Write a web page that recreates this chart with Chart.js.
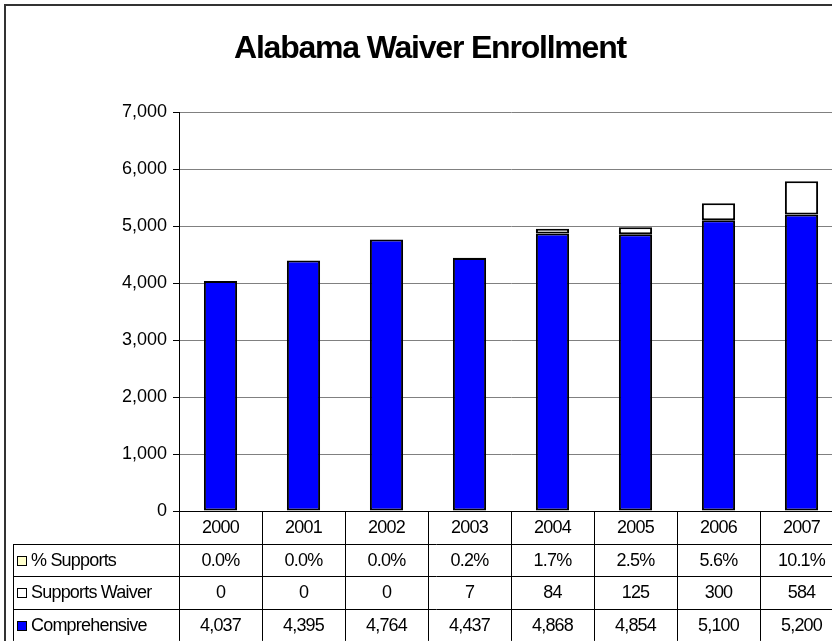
<!DOCTYPE html>
<html>
<head>
<meta charset="utf-8">
<title>Alabama Waiver Enrollment</title>
<script src="https://cdn.jsdelivr.net/npm/chart.js@4.4.1/dist/chart.umd.min.js"></script>
<style>
  html, body { margin: 0; padding: 0; background: #fff; overflow: hidden; }
  #wrap { position: absolute; left: 0; top: 0; width: 860px; height: 660px; }
</style>
</head>
<body>
<div id="wrap"><canvas id="chartEnrollment" width="860" height="660"></canvas></div>
<script>
var anos = ['2000', '2001', '2002', '2003', '2004', '2005', '2006', '2007'];
var comprehensive = [4037, 4395, 4764, 4437, 4868, 4854, 5100, 5200];
var supportsWaiver = [0, 0, 0, 7, 84, 125, 300, 584];
var pctSupports = [0.0, 0.0, 0.0, 0.2, 1.7, 2.5, 5.6, 10.1];
var yTicks = [0, 1000, 2000, 3000, 4000, 5000, 6000, 7000];

var fonte = '"Liberation Sans", Arial, sans-serif';

function fmtNum(v) {
    return v.toLocaleString('en-US');
}

// rows of the data table under the plot
var linhas = [
    { nome: '% Supports', cor: '#FFFFCC', valores: pctSupports.map(function (v) { return v.toFixed(1) + '%'; }) },
    { nome: 'Supports Waiver', cor: '#FFFFFF', valores: supportsWaiver.map(fmtNum) },
    { nome: 'Comprehensive', cor: '#0000FF', valores: comprehensive.map(fmtNum) }
];

var tabelaPlugin = {
    id: 'tabelaDados',
    beforeDraw: function (chart) {
        var ctx = chart.ctx;
        ctx.save();
        ctx.fillStyle = '#fff';
        ctx.fillRect(0, 0, chart.width, chart.height);
        // outer frame
        ctx.strokeStyle = '#333';
        ctx.lineWidth = 2;
        ctx.strokeRect(5, 5, chart.width - 10, chart.height - 10);
        // title
        ctx.fillStyle = '#000';
        ctx.font = 'bold 32px ' + fonte;
        ctx.letterSpacing = '-1.2px';
        ctx.textAlign = 'center';
        ctx.textBaseline = 'middle';
        ctx.fillText('Alabama Waiver Enrollment', 430, 49);
        ctx.restore();
    },
    afterDraw: function (chart) {
        var ctx = chart.ctx;
        var x = chart.scales.x;
        var area = chart.chartArea;
        var passo = (x.getPixelForValue(1) - x.getPixelForValue(0));
        var topo = area.bottom;
        var hCab = 33;
        var hLinha = 32.3;
        var esq = 13;
        var fundo = topo + hCab + hLinha * linhas.length;

        ctx.save();
        ctx.strokeStyle = '#000';
        ctx.lineWidth = 1;
        ctx.beginPath();
        // header bottom and row lines
        for (var r = 0; r <= linhas.length; r++) {
            var yy = Math.round(topo + hCab + hLinha * r) + 0.5;
            ctx.moveTo(esq, yy);
            ctx.lineTo(chart.width, yy);
        }
        // column lines
        ctx.moveTo(esq + 0.5, topo + hCab);
        ctx.lineTo(esq + 0.5, fundo);
        for (var i = 0; i <= anos.length; i++) {
            var xx = Math.round(x.getPixelForValue(i) - passo / 2) + 0.5;
            ctx.moveTo(xx, topo);
            ctx.lineTo(xx, fundo);
        }
        ctx.stroke();

        ctx.fillStyle = '#000';
        ctx.font = '18px ' + fonte;
        ctx.letterSpacing = '-0.8px';
        ctx.textBaseline = 'middle';
        ctx.textAlign = 'center';
        for (var c = 0; c < anos.length; c++) {
            ctx.fillText(anos[c], x.getPixelForValue(c), topo + hCab / 2 + 1);
        }
        for (var l = 0; l < linhas.length; l++) {
            var yc = topo + hCab + hLinha * l + hLinha / 2 + 1;
            ctx.textAlign = 'center';
            for (var k = 0; k < anos.length; k++) {
                ctx.fillText(linhas[l].valores[k], x.getPixelForValue(k), yc);
            }
            // legend key
            ctx.fillStyle = linhas[l].cor;
            ctx.fillRect(17, Math.round(yc - 5), 10, 10);
            ctx.strokeRect(17.5, Math.round(yc - 5) + 0.5, 9, 9);
            ctx.fillStyle = '#000';
            ctx.textAlign = 'left';
            ctx.fillText(linhas[l].nome, 31, yc);
        }
        ctx.restore();
    }
};

const dataEnroll = {
    labels: anos,
    datasets: [{
        label: 'Comprehensive',
        data: comprehensive,
        backgroundColor: '#0000FF',
        borderColor: '#000',
        borderWidth: 2,
        borderSkipped: false,
        barPercentage: 0.4,
        categoryPercentage: 1.0
    }, {
        label: 'Supports Waiver',
        data: supportsWaiver,
        backgroundColor: '#FFFFFF',
        borderColor: '#000',
        borderWidth: 2,
        borderSkipped: false,
        barPercentage: 0.4,
        categoryPercentage: 1.0
    }]
};

const configEnroll = {
    type: 'bar',
    data: dataEnroll,
    plugins: [tabelaPlugin],
    options: {
        responsive: false,
        animation: false,
        layout: { padding: { top: 112, right: 17, left: 0, bottom: 0 } },
        plugins: {
            legend: { display: false },
            title: { display: false },
            tooltip: { enabled: false }
        },
        scales: {
            x: {
                stacked: true,
                grid: { display: false },
                border: { display: true, color: '#000', width: 1 },
                ticks: { display: false },
                afterFit: function (scale) { scale.height = 660 - 511; }
            },
            y: {
                stacked: true,
                min: 0,
                max: 7000,
                afterBuildTicks: function (scale) {
                    scale.ticks = yTicks.map(function (v) { return { value: v }; });
                },
                afterFit: function (scale) { scale.width = 179; },
                grid: {
                    color: '#808080',
                    lineWidth: 1,
                    tickLength: 6,
                    tickColor: '#000'
                },
                border: { display: true, color: '#000', width: 1 },
                ticks: {
                    color: '#000',
                    padding: 6,
                    font: { family: fonte, size: 18 },
                    callback: function (v) { return fmtNum(v); }
                }
            }
        }
    }
};

new Chart(
    document.getElementById('chartEnrollment'),
    configEnroll
);
</script>
</body>
</html>
